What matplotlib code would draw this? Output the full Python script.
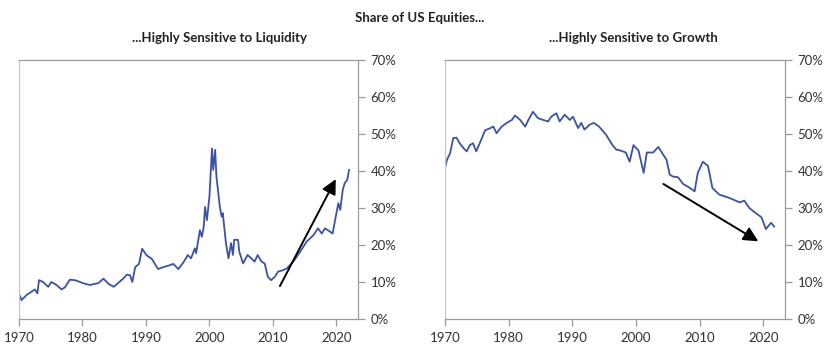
import matplotlib.pyplot as plt
from matplotlib.ticker import FuncFormatter

plt.rcParams['font.family'] = ['Lato', 'DejaVu Sans']

# --- liquidity-sensitive share (%) ---
liq_years = [1970.0, 1970.4, 1971.2, 1972.0, 1972.5, 1972.9, 1973.15, 1973.8, 1974.6, 1975.1,
             1975.9, 1976.7, 1977.2, 1978.0, 1978.8, 1979.6, 1980.4, 1981.2, 1982.0, 1982.5,
             1983.3, 1984.1, 1984.9, 1985.6, 1986.4, 1987.0, 1987.5, 1987.85, 1988.3, 1988.9,
             1989.4, 1990.1, 1990.9, 1991.4, 1991.9, 1992.7, 1993.5, 1994.3, 1995.1, 1995.9,
             1996.6, 1997.1, 1997.7, 1997.9, 1998.5, 1998.8, 1999.1, 1999.3, 1999.6, 2000.0,
             2000.4, 2000.6, 2000.9, 2001.1, 2001.4, 2001.6, 2001.9, 2002.1, 2002.6, 2003.0,
             2003.4, 2003.7, 2003.9, 2004.5, 2004.7, 2005.3, 2006.0, 2006.6, 2007.1, 2007.6,
             2008.2, 2008.7, 2009.2, 2009.7, 2010.3, 2010.8, 2011.6, 2012.2, 2013.2, 2014.3,
             2015.3, 2016.4, 2017.1, 2017.7, 2018.2, 2019.0, 2019.4, 2019.9, 2020.3, 2020.6,
             2021.0, 2021.3, 2021.7, 2022.0]
liq_share = [6.9, 5.1, 6.5, 7.4, 8.0, 6.9, 10.5, 10.0, 8.7, 10.0,
             9.2, 8.0, 8.5, 10.6, 10.5, 10.0, 9.5, 9.2, 9.5, 9.7,
             10.9, 9.5, 8.7, 9.7, 10.9, 12.0, 11.8, 10.0, 14.0, 14.9,
             19.0, 17.2, 16.3, 14.9, 13.5, 14.0, 14.4, 14.9, 13.5, 15.3,
             17.3, 16.4, 19.1, 17.8, 24.0, 22.2, 24.9, 30.3, 26.7, 33.1,
             46.1, 40.3, 45.7, 38.5, 34.0, 30.8, 27.7, 28.6, 20.5, 16.4,
             20.5, 17.3, 21.4, 21.4, 18.2, 15.0, 17.3, 16.4, 15.5, 17.3,
             15.5, 15.0, 11.4, 10.5, 11.4, 12.8, 13.2, 13.7, 15.5, 18.2,
             20.9, 22.7, 24.5, 23.1, 24.5, 23.6, 23.1, 27.7, 31.3, 29.5,
             34.9, 36.7, 37.6, 40.3]

# --- growth-sensitive share (%) ---
gro_years = [1970.0, 1970.3, 1970.8, 1971.3, 1971.8, 1972.3, 1972.9, 1973.4, 1973.9, 1974.4,
             1974.9, 1975.7, 1976.3, 1977.0, 1977.6, 1978.1, 1978.9, 1979.7, 1980.5, 1981.0,
             1981.8, 1982.6, 1983.1, 1983.8, 1984.6, 1985.4, 1986.2, 1986.7, 1987.5, 1988.0,
             1988.8, 1989.6, 1990.1, 1990.9, 1991.4, 1991.9, 1992.7, 1993.4, 1994.2, 1995.3,
             1996.3, 1996.9, 1997.6, 1998.4, 1999.0, 1999.6, 2000.4, 2001.2, 2001.7, 2002.7,
             2003.5, 2004.8, 2005.3, 2005.8, 2006.6, 2007.4, 2008.4, 2009.2, 2009.7, 2010.5,
             2011.3, 2012.0, 2013.1, 2014.7, 2016.3, 2017.0, 2017.8, 2018.9, 2019.7, 2020.4,
             2021.2, 2021.7]
gro_share = [40.8, 43.0, 44.8, 48.9, 49.0, 47.5, 46.2, 45.3, 47.0, 47.5,
             45.3, 48.5, 51.0, 51.5, 52.0, 50.2, 52.0, 53.0, 53.8, 55.0,
             53.8, 52.0, 53.8, 56.0, 54.3, 53.8, 53.4, 54.7, 55.6, 53.4,
             55.2, 53.8, 54.7, 51.6, 53.0, 51.2, 52.5, 53.0, 52.0, 49.8,
             47.0, 45.8, 45.5, 45.0, 42.5, 47.0, 45.5, 39.5, 45.0, 45.0,
             46.5, 43.0, 39.0, 38.5, 38.3, 36.5, 35.5, 34.5, 39.5, 42.5,
             41.4, 35.4, 33.6, 32.7, 31.5, 32.0, 30.0, 28.5, 27.5, 24.3,
             26.0, 25.0]

# trend arrows (year, %) -> tail, head
liq_arrow = [(2011.1, 8.9), (2019.9, 37.8)]
gro_arrow = [(2004.3, 36.5), (2019.2, 21.0)]

line_col = '#3c52a4'
spine_col = '#9a9a9a'

fig = plt.figure(figsize=(8.4, 3.57), dpi=100)
ax1 = fig.add_axes([19 / 840, 1 - 319 / 357, (358 - 19) / 840, (319 - 60) / 357])
ax2 = fig.add_axes([445 / 840, 1 - 319 / 357, (785 - 445) / 840, (319 - 60) / 357])

panels = [(ax1, liq_years, liq_share, liq_arrow), (ax2, gro_years, gro_share, gro_arrow)]
for ax, xs, ys, arr in panels:
    ax.plot(xs, ys, color=line_col, lw=1.3)
    ax.set_xlim(1970, 2023.4)
    ax.set_ylim(0, 70)
    ax.set_xticks([1970, 1980, 1990, 2000, 2010, 2020])
    ax.set_yticks(range(0, 71, 10))
    ax.yaxis.tick_right()
    ax.yaxis.set_major_formatter(FuncFormatter(lambda v, p: f'{int(v)}%'))
    for s in ax.spines.values():
        s.set_color(spine_col)
        s.set_linewidth(0.9)
    ax.spines['left'].set_color('#c8c8c8')
    ax.tick_params(axis='both', colors=spine_col, labelcolor='#333333', labelsize=9.5,
                   length=5, width=0.9, direction='out', pad=4)
    ax.annotate('', xy=arr[1], xytext=arr[0],
                arrowprops=dict(arrowstyle='-|>', color='black', lw=1.4, mutation_scale=22,
                                shrinkA=0, shrinkB=0))

fig.text(0.5, 0.95, 'Share of US Equities...', ha='center', va='center',
         fontsize=9.5, fontweight='bold', color='#222222')
fig.text(219 / 840, 0.893, '...Highly Sensitive to Liquidity', ha='center', va='center',
         fontsize=9.5, fontweight='bold', color='#222222')
fig.text(633 / 840, 0.893, '...Highly Sensitive to Growth', ha='center', va='center',
         fontsize=9.5, fontweight='bold', color='#222222')

fig.savefig('out.png', dpi=100)
